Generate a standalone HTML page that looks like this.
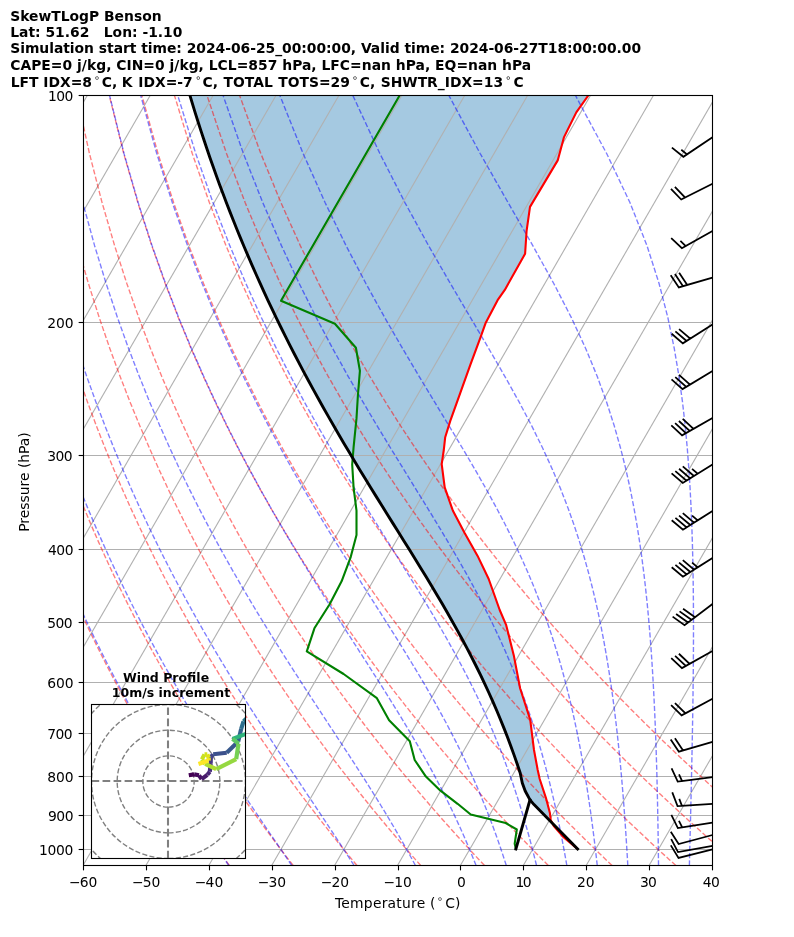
<!DOCTYPE html><html><head><meta charset="utf-8"><title>SkewTLogP Benson</title><style>html,body{margin:0;padding:0;background:#fff}svg{display:block}text{white-space:pre;font-family:"DejaVu Sans","Liberation Sans",sans-serif;fill:#000}.b{font-weight:bold}</style></head><body>
<svg width="794" height="937" viewBox="0 0 794 937">
<rect width="794" height="937" fill="#fff"/>
<defs><clipPath id="ax"><rect x="83.50" y="95.50" width="629.00" height="770.00"/></clipPath><clipPath id="hd"><rect x="91.50" y="704.50" width="154.00" height="154.00"/></clipPath></defs>
<g clip-path="url(#ax)">
<polygon points="550.5,821.5 534.0,804.6 530.0,799.9 525.2,791.0 522.3,783.0 520.2,773.0 517.2,764.0 514.1,755.1 510.9,746.2 507.5,737.3 504.1,728.4 500.5,719.5 496.7,710.6 492.9,701.6 488.9,692.7 484.7,683.8 480.5,674.9 476.1,666.0 471.6,657.1 467.0,648.2 462.2,639.2 457.3,630.3 452.3,621.4 447.3,612.5 442.1,603.6 436.8,594.7 431.5,585.8 426.1,576.9 420.7,567.9 415.2,559.0 409.6,550.1 404.1,541.2 398.5,532.3 392.9,523.4 387.4,514.5 381.8,505.5 376.3,496.6 370.8,487.7 365.3,478.8 359.9,469.9 354.5,461.0 349.1,452.1 343.8,443.1 338.6,434.2 333.4,425.3 328.3,416.4 323.2,407.5 318.3,398.6 313.3,389.7 308.5,380.7 303.7,371.8 299.0,362.9 294.4,354.0 289.8,345.1 285.3,336.2 280.9,327.3 276.5,318.3 272.2,309.4 268.0,300.5 263.9,291.6 259.8,282.7 255.8,273.8 251.9,264.9 248.0,256.0 244.2,247.0 240.5,238.1 236.9,229.2 233.3,220.3 229.8,211.4 226.3,202.5 222.9,193.6 219.6,184.6 216.4,175.7 213.2,166.8 210.0,157.9 207.0,149.0 204.0,140.1 201.1,131.2 198.2,122.2 195.4,113.3 192.6,104.4 189.9,95.5 588.3,95.5 576.3,112.4 563.9,137.4 557.7,160.4 530.0,206.9 526.6,230.8 525.1,253.8 504.8,289.9 497.6,300.2 485.5,323.3 480.5,337.4 470.4,364.6 460.3,392.8 450.2,421.1 445.2,437.2 443.8,450.0 441.7,464.2 444.7,487.4 452.8,510.5 464.5,532.7 477.6,555.9 488.7,579.0 499.7,610.0 506.2,625.2 513.8,655.4 520.1,688.2 530.2,719.6 534.0,750.0 537.7,770.0 539.7,779.0 545.9,797.8 549.9,813.0 550.7,819.9" fill="#1f77b4" fill-opacity="0.4"/>
<g stroke="#b0b0b0" stroke-width="1.11" fill="none">
<line x1="83.50" y1="322.50" x2="712.50" y2="322.50"/>
<line x1="83.50" y1="455.50" x2="712.50" y2="455.50"/>
<line x1="83.50" y1="549.50" x2="712.50" y2="549.50"/>
<line x1="83.50" y1="622.50" x2="712.50" y2="622.50"/>
<line x1="83.50" y1="682.50" x2="712.50" y2="682.50"/>
<line x1="83.50" y1="733.50" x2="712.50" y2="733.50"/>
<line x1="83.50" y1="776.50" x2="712.50" y2="776.50"/>
<line x1="83.50" y1="815.50" x2="712.50" y2="815.50"/>
<line x1="83.50" y1="849.50" x2="712.50" y2="849.50"/>
<line x1="-546.00" y1="865.50" x2="-101.44" y2="95.50"/>
<line x1="-483.10" y1="865.50" x2="-38.54" y2="95.50"/>
<line x1="-420.20" y1="865.50" x2="24.36" y2="95.50"/>
<line x1="-357.30" y1="865.50" x2="87.26" y2="95.50"/>
<line x1="-294.40" y1="865.50" x2="150.16" y2="95.50"/>
<line x1="-231.50" y1="865.50" x2="213.06" y2="95.50"/>
<line x1="-168.60" y1="865.50" x2="275.96" y2="95.50"/>
<line x1="-105.70" y1="865.50" x2="338.86" y2="95.50"/>
<line x1="-42.80" y1="865.50" x2="401.76" y2="95.50"/>
<line x1="20.10" y1="865.50" x2="464.66" y2="95.50"/>
<line x1="83.00" y1="865.50" x2="527.56" y2="95.50"/>
<line x1="145.90" y1="865.50" x2="590.46" y2="95.50"/>
<line x1="208.80" y1="865.50" x2="653.36" y2="95.50"/>
<line x1="271.70" y1="865.50" x2="716.26" y2="95.50"/>
<line x1="334.60" y1="865.50" x2="779.16" y2="95.50"/>
<line x1="397.50" y1="865.50" x2="842.06" y2="95.50"/>
<line x1="460.40" y1="865.50" x2="904.96" y2="95.50"/>
<line x1="523.30" y1="865.50" x2="967.86" y2="95.50"/>
<line x1="586.20" y1="865.50" x2="1030.76" y2="95.50"/>
<line x1="649.10" y1="865.50" x2="1093.66" y2="95.50"/>
<line x1="712.00" y1="865.50" x2="1156.56" y2="95.50"/>
</g>
<g stroke="#ff0000" stroke-opacity="0.5" stroke-width="1.39" stroke-dasharray="5.14 2.22" fill="none">
<polyline points="229.39,865.50 225.01,859.40 220.60,853.18 216.14,846.84 211.65,840.37 207.11,833.78 202.52,827.05 197.90,820.18 193.22,813.16 188.50,805.99 183.73,798.65 178.91,791.15 174.04,783.48 169.11,775.61 164.13,767.56 159.10,759.30 154.01,750.83 148.86,742.13 143.65,733.20 138.38,724.02 133.04,714.57 127.64,704.84 122.17,694.81 116.63,684.46 111.01,673.78 105.33,662.74 99.56,651.31 93.72,639.47 87.80,627.18 81.79,614.42 75.69,601.14 69.51,587.29 63.23,572.84 56.87,557.72 50.40,541.86 43.84,525.20 37.18,507.64 30.41,489.09 23.55,469.43 16.59,448.51 9.54,426.16 2.39,402.17 -4.83,376.29 -12.11,348.18 -19.42,317.43 -26.73,283.50 -33.95,245.63 -40.98,202.81 -47.63,153.53 -53.58,95.50"/>
<polyline points="293.17,865.50 288.46,859.40 283.70,853.18 278.90,846.84 274.05,840.37 269.15,833.78 264.20,827.05 259.21,820.18 254.16,813.16 249.05,805.99 243.90,798.65 238.68,791.15 233.41,783.48 228.08,775.61 222.69,767.56 217.24,759.30 211.72,750.83 206.13,742.13 200.48,733.20 194.75,724.02 188.95,714.57 183.08,704.84 177.13,694.81 171.09,684.46 164.97,673.78 158.77,662.74 152.47,651.31 146.09,639.47 139.61,627.18 133.02,614.42 126.34,601.14 119.55,587.29 112.64,572.84 105.63,557.72 98.49,541.86 91.24,525.20 83.85,507.64 76.34,489.09 68.70,469.43 60.92,448.51 53.01,426.16 44.97,402.17 36.79,376.29 28.50,348.18 20.12,317.43 11.66,283.50 3.19,245.63 -5.20,202.81 -13.36,153.53 -21.00,95.50"/>
<polyline points="356.95,865.50 351.90,859.40 346.80,853.18 341.65,846.84 336.45,840.37 331.19,833.78 325.88,827.05 320.52,820.18 315.09,813.16 309.61,805.99 304.07,798.65 298.46,791.15 292.79,783.48 287.06,775.61 281.25,767.56 275.38,759.30 269.43,750.83 263.41,742.13 257.31,733.20 251.13,724.02 244.87,714.57 238.52,704.84 232.08,694.81 225.55,684.46 218.93,673.78 212.21,662.74 205.39,651.31 198.45,639.47 191.41,627.18 184.26,614.42 176.98,601.14 169.58,587.29 162.05,572.84 154.39,557.72 146.58,541.86 138.63,525.20 130.53,507.64 122.27,489.09 113.85,469.43 105.25,448.51 96.48,426.16 87.54,402.17 78.42,376.29 69.12,348.18 59.66,317.43 50.05,283.50 40.33,245.63 30.57,202.81 20.91,153.53 11.58,95.50"/>
<polyline points="420.74,865.50 415.35,859.40 409.90,853.18 404.40,846.84 398.85,840.37 393.23,833.78 387.56,827.05 381.83,820.18 376.03,813.16 370.17,805.99 364.24,798.65 358.24,791.15 352.17,783.48 346.03,775.61 339.81,767.56 333.52,759.30 327.14,750.83 320.68,742.13 314.14,733.20 307.50,724.02 300.78,714.57 293.96,704.84 287.04,694.81 280.02,684.46 272.89,673.78 265.65,662.74 258.30,651.31 250.82,639.47 243.22,627.18 235.49,614.42 227.63,601.14 219.62,587.29 211.46,572.84 203.15,557.72 194.68,541.86 186.03,525.20 177.21,507.64 168.20,489.09 158.99,469.43 149.58,448.51 139.96,426.16 130.11,402.17 120.04,376.29 109.73,348.18 99.19,317.43 88.43,283.50 77.47,245.63 66.35,202.81 55.18,153.53 44.16,95.50"/>
<polyline points="484.52,865.50 478.79,859.40 473.00,853.18 467.16,846.84 461.25,840.37 455.28,833.78 449.24,827.05 443.14,820.18 436.96,813.16 430.72,805.99 424.41,798.65 418.02,791.15 411.55,783.48 405.00,775.61 398.37,767.56 391.65,759.30 384.85,750.83 377.96,742.13 370.97,733.20 363.88,724.02 356.69,714.57 349.40,704.84 342.00,694.81 334.48,684.46 326.85,673.78 319.09,662.74 311.21,651.31 303.19,639.47 295.03,627.18 286.73,614.42 278.27,601.14 269.66,587.29 260.87,572.84 251.91,557.72 242.77,541.86 233.43,525.20 223.89,507.64 214.13,489.09 204.14,469.43 193.91,448.51 183.43,426.16 172.69,402.17 161.66,376.29 150.35,348.18 138.73,317.43 126.82,283.50 114.61,245.63 102.13,202.81 89.45,153.53 76.74,95.50"/>
<polyline points="548.30,865.50 542.23,859.40 536.10,853.18 529.91,846.84 523.65,840.37 517.32,833.78 510.92,827.05 504.45,820.18 497.90,813.16 491.28,805.99 484.58,798.65 477.79,791.15 470.93,783.48 463.97,775.61 456.93,767.56 449.79,759.30 442.56,750.83 435.23,742.13 427.80,733.20 420.26,724.02 412.61,714.57 404.84,704.84 396.95,694.81 388.95,684.46 380.81,673.78 372.53,662.74 364.12,651.31 355.56,639.47 346.84,627.18 337.96,614.42 328.92,601.14 319.69,587.29 310.28,572.84 300.67,557.72 290.86,541.86 280.83,525.20 270.56,507.64 260.05,489.09 249.29,469.43 238.24,448.51 226.91,426.16 215.26,402.17 203.29,376.29 190.96,348.18 178.27,317.43 165.20,283.50 151.74,245.63 137.90,202.81 123.72,153.53 109.32,95.50"/>
<polyline points="612.08,865.50 605.68,859.40 599.20,853.18 592.66,846.84 586.05,840.37 579.36,833.78 572.60,827.05 565.76,820.18 558.84,813.16 551.83,805.99 544.74,798.65 537.57,791.15 530.30,783.48 522.94,775.61 515.49,767.56 507.93,759.30 500.27,750.83 492.50,742.13 484.63,733.20 476.63,724.02 468.52,714.57 460.28,704.84 451.91,694.81 443.41,684.46 434.76,673.78 425.97,662.74 417.03,651.31 407.92,639.47 398.65,627.18 389.20,614.42 379.56,601.14 369.73,587.29 359.69,572.84 349.44,557.72 338.95,541.86 328.22,525.20 317.24,507.64 305.98,489.09 294.43,469.43 282.57,448.51 270.38,426.16 257.83,402.17 244.91,376.29 231.58,348.18 217.81,317.43 203.59,283.50 188.88,245.63 173.68,202.81 157.99,153.53 141.90,95.50"/>
<polyline points="675.87,865.50 669.12,859.40 662.30,853.18 655.41,846.84 648.45,840.37 641.40,833.78 634.27,827.05 627.07,820.18 619.77,813.16 612.39,805.99 604.91,798.65 597.35,791.15 589.68,783.48 581.92,775.61 574.05,767.56 566.07,759.30 557.98,750.83 549.78,742.13 541.46,733.20 533.01,724.02 524.43,714.57 515.72,704.84 506.87,694.81 497.87,684.46 488.72,673.78 479.41,662.74 469.94,651.31 460.29,639.47 450.46,627.18 440.43,614.42 430.21,601.14 419.77,587.29 409.10,572.84 398.20,557.72 387.04,541.86 375.62,525.20 363.92,507.64 351.91,489.09 339.58,469.43 326.90,448.51 313.85,426.16 300.41,402.17 286.53,376.29 272.19,348.18 257.35,317.43 241.98,283.50 226.02,245.63 209.46,202.81 192.26,153.53 174.48,95.50"/>
<polyline points="739.65,865.50 732.57,859.40 725.41,853.18 718.17,846.84 710.85,840.37 703.44,833.78 695.95,827.05 688.38,820.18 680.71,813.16 672.94,805.99 665.08,798.65 657.12,791.15 649.06,783.48 640.89,775.61 632.61,767.56 624.21,759.30 615.69,750.83 607.05,742.13 598.29,733.20 589.38,724.02 580.34,714.57 571.16,704.84 561.83,694.81 552.34,684.46 542.68,673.78 532.86,662.74 522.85,651.31 512.66,639.47 502.27,627.18 491.67,614.42 480.85,601.14 469.80,587.29 458.51,572.84 446.96,557.72 435.14,541.86 423.02,525.20 410.59,507.64 397.84,489.09 384.73,469.43 371.23,448.51 357.33,426.16 342.98,402.17 328.15,376.29 312.81,348.18 296.89,317.43 280.36,283.50 263.16,245.63 245.23,202.81 226.53,153.53 207.05,95.50"/>
<polyline points="803.43,865.50 796.01,859.40 788.51,853.18 780.92,846.84 773.25,840.37 765.48,833.78 757.63,827.05 749.69,820.18 741.64,813.16 733.50,805.99 725.25,798.65 716.90,791.15 708.44,783.48 699.86,775.61 691.16,767.56 682.35,759.30 673.40,750.83 664.33,742.13 655.11,733.20 645.76,724.02 636.26,714.57 626.60,704.84 616.78,694.81 606.80,684.46 596.64,673.78 586.30,662.74 575.76,651.31 565.02,639.47 554.07,627.18 542.90,614.42 531.49,601.14 519.84,587.29 507.92,572.84 495.72,557.72 483.23,541.86 470.42,525.20 457.27,507.64 443.77,489.09 429.87,469.43 415.56,448.51 400.80,426.16 385.56,402.17 369.78,376.29 353.42,348.18 336.43,317.43 318.75,283.50 300.30,245.63 281.01,202.81 260.81,153.53 239.63,95.50"/>
</g>
<g stroke="#0000ff" stroke-opacity="0.5" stroke-width="1.39" stroke-dasharray="5.14 2.22" fill="none">
<polyline points="228.82,865.50 224.68,859.40 220.48,853.18 216.22,846.84 211.91,840.37 207.53,833.78 203.10,827.05 198.60,820.18 194.05,813.16 189.44,805.99 184.76,798.65 180.03,791.15 175.23,783.48 170.37,775.61 165.44,767.56 160.46,759.30 155.40,750.83 150.29,742.13 145.10,733.20 139.85,724.02 134.53,714.57 129.14,704.84 123.67,694.81 118.13,684.46 112.52,673.78 106.83,662.74 101.06,651.31 95.21,639.47 89.27,627.18 83.25,614.42 77.14,601.14 70.95,587.29 64.65,572.84 58.27,557.72 51.79,541.86 45.20,525.20 38.52,507.64 31.74,489.09 24.85,469.43 17.87,448.51 10.79,426.16 3.62,402.17 -3.63,376.29 -10.94,348.18 -18.28,317.43 -25.62,283.50 -32.88,245.63 -39.95,202.81 -46.64,153.53 -52.64,95.50"/>
<polyline points="291.80,865.50 287.65,859.40 283.41,853.18 279.10,846.84 274.70,840.37 270.21,833.78 265.65,827.05 261.00,820.18 256.27,813.16 251.46,805.99 246.56,798.65 241.58,791.15 236.52,783.48 231.37,775.61 226.14,767.56 220.82,759.30 215.42,750.83 209.93,742.13 204.36,733.20 198.70,724.02 192.95,714.57 187.11,704.84 181.19,694.81 175.17,684.46 169.06,673.78 162.85,662.74 156.54,651.31 150.14,639.47 143.63,627.18 137.02,614.42 130.30,601.14 123.47,587.29 116.53,572.84 109.47,557.72 102.28,541.86 94.97,525.20 87.54,507.64 79.97,489.09 72.26,469.43 64.42,448.51 56.44,426.16 48.33,402.17 40.08,376.29 31.71,348.18 23.24,317.43 14.69,283.50 6.12,245.63 -2.38,202.81 -10.66,153.53 -18.43,95.50"/>
<polyline points="354.07,865.50 350.18,859.40 346.19,853.18 342.08,846.84 337.87,840.37 333.55,833.78 329.11,827.05 324.55,820.18 319.88,813.16 315.09,805.99 310.19,798.65 305.17,791.15 300.03,783.48 294.77,775.61 289.39,767.56 283.89,759.30 278.27,750.83 272.53,742.13 266.68,733.20 260.70,724.02 254.60,714.57 248.39,704.84 242.05,694.81 235.59,684.46 229.01,673.78 222.31,662.74 215.48,651.31 208.53,639.47 201.44,627.18 194.23,614.42 186.88,601.14 179.40,587.29 171.77,572.84 164.00,557.72 156.08,541.86 148.00,525.20 139.76,507.64 131.36,489.09 122.78,469.43 114.03,448.51 105.09,426.16 95.97,402.17 86.66,376.29 77.16,348.18 67.49,317.43 57.65,283.50 47.68,245.63 37.66,202.81 27.70,153.53 18.03,95.50"/>
<polyline points="415.44,865.50 412.15,859.40 408.75,853.18 405.22,846.84 401.57,840.37 397.78,833.78 393.85,827.05 389.78,820.18 385.57,813.16 381.20,805.99 376.68,798.65 372.01,791.15 367.17,783.48 362.16,775.61 356.99,767.56 351.65,759.30 346.13,750.83 340.44,742.13 334.58,733.20 328.54,724.02 322.33,714.57 315.94,704.84 309.37,694.81 302.62,684.46 295.70,673.78 288.60,662.74 281.33,651.31 273.88,639.47 266.26,627.18 258.45,614.42 250.47,601.14 242.31,587.29 233.96,572.84 225.43,557.72 216.71,541.86 207.79,525.20 198.66,507.64 189.33,489.09 179.78,469.43 170.00,448.51 159.99,426.16 149.74,402.17 139.23,376.29 128.46,348.18 117.42,317.43 106.13,283.50 94.59,245.63 82.84,202.81 70.98,153.53 59.18,95.50"/>
<polyline points="476.09,865.50 473.67,859.40 471.14,853.18 468.50,846.84 465.74,840.37 462.87,833.78 459.86,827.05 456.71,820.18 453.42,813.16 449.97,805.99 446.37,798.65 442.59,791.15 438.63,783.48 434.48,775.61 430.14,767.56 425.58,759.30 420.81,750.83 415.81,742.13 410.58,733.20 405.10,724.02 399.37,714.57 393.38,704.84 387.13,694.81 380.61,684.46 373.81,673.78 366.74,662.74 359.39,651.31 351.76,639.47 343.85,627.18 335.67,614.42 327.20,601.14 318.46,587.29 309.44,572.84 300.15,557.72 290.59,541.86 280.75,525.20 270.63,507.64 260.22,489.09 249.53,469.43 238.53,448.51 227.22,426.16 215.59,402.17 203.62,376.29 191.30,348.18 178.61,317.43 165.53,283.50 152.06,245.63 138.21,202.81 124.01,153.53 109.59,95.50"/>
<polyline points="506.30,865.50 504.34,859.40 502.30,853.18 500.16,846.84 497.93,840.37 495.59,833.78 493.13,827.05 490.56,820.18 487.85,813.16 485.01,805.99 482.03,798.65 478.89,791.15 475.58,783.48 472.09,775.61 468.41,767.56 464.54,759.30 460.44,750.83 456.12,742.13 451.55,733.20 446.73,724.02 441.63,714.57 436.25,704.84 430.57,694.81 424.58,684.46 418.26,673.78 411.60,662.74 404.60,651.31 397.25,639.47 389.53,627.18 381.45,614.42 373.00,601.14 364.19,587.29 355.02,572.84 345.48,557.72 335.58,541.86 325.32,525.20 314.70,507.64 303.73,489.09 292.40,469.43 280.71,448.51 268.64,426.16 256.19,402.17 243.34,376.29 230.06,348.18 216.35,317.43 202.18,283.50 187.52,245.63 172.37,202.81 156.73,153.53 140.70,95.50"/>
<polyline points="536.53,865.50 535.03,859.40 533.46,853.18 531.83,846.84 530.11,840.37 528.31,833.78 526.42,827.05 524.44,820.18 522.35,813.16 520.15,805.99 517.83,798.65 515.38,791.15 512.80,783.48 510.06,775.61 507.16,767.56 504.09,759.30 500.82,750.83 497.35,742.13 493.67,733.20 489.74,724.02 485.55,714.57 481.08,704.84 476.31,694.81 471.23,684.46 465.79,673.78 459.99,662.74 453.79,651.31 447.18,639.47 440.13,627.18 432.63,614.42 424.66,601.14 416.20,587.29 407.25,572.84 397.80,557.72 387.84,541.86 377.40,525.20 366.45,507.64 355.02,489.09 343.10,469.43 330.71,448.51 317.83,426.16 304.46,402.17 290.60,376.29 276.23,348.18 261.32,317.43 245.85,283.50 229.78,245.63 213.08,202.81 195.73,153.53 177.77,95.50"/>
<polyline points="566.83,865.50 565.76,859.40 564.64,853.18 563.48,846.84 562.25,840.37 560.97,833.78 559.62,827.05 558.20,820.18 556.70,813.16 555.12,805.99 553.46,798.65 551.70,791.15 549.83,783.48 547.85,775.61 545.75,767.56 543.52,759.30 541.14,750.83 538.59,742.13 535.88,733.20 532.97,724.02 529.85,714.57 526.50,704.84 522.89,694.81 519.00,684.46 514.81,673.78 510.27,662.74 505.36,651.31 500.04,639.47 494.27,627.18 488.01,614.42 481.22,601.14 473.86,587.29 465.89,572.84 457.28,557.72 447.99,541.86 438.00,525.20 427.29,507.64 415.86,489.09 403.72,469.43 390.86,448.51 377.30,426.16 363.06,402.17 348.13,376.29 332.52,348.18 316.22,317.43 299.20,283.50 281.42,245.63 262.84,202.81 243.41,153.53 223.09,95.50"/>
<polyline points="597.25,865.50 596.57,859.40 595.85,853.18 595.11,846.84 594.32,840.37 593.50,833.78 592.63,827.05 591.72,820.18 590.76,813.16 589.74,805.99 588.67,798.65 587.53,791.15 586.33,783.48 585.05,775.61 583.69,767.56 582.24,759.30 580.68,750.83 579.02,742.13 577.24,733.20 575.33,724.02 573.27,714.57 571.05,704.84 568.64,694.81 566.03,684.46 563.20,673.78 560.11,662.74 556.73,651.31 553.03,639.47 548.97,627.18 544.49,614.42 539.55,601.14 534.08,587.29 528.03,572.84 521.30,557.72 513.84,541.86 505.55,525.20 496.35,507.64 486.18,489.09 474.96,469.43 462.66,448.51 449.24,426.16 434.71,402.17 419.08,376.29 402.39,348.18 384.64,317.43 365.87,283.50 346.06,245.63 325.17,202.81 303.14,153.53 279.89,95.50"/>
<polyline points="627.81,865.50 627.46,859.40 627.10,853.18 626.71,846.84 626.30,840.37 625.88,833.78 625.43,827.05 624.95,820.18 624.45,813.16 623.91,805.99 623.35,798.65 622.74,791.15 622.10,783.48 621.42,775.61 620.69,767.56 619.91,759.30 619.07,750.83 618.16,742.13 617.19,733.20 616.14,724.02 615.01,714.57 613.77,704.84 612.43,694.81 610.97,684.46 609.37,673.78 607.61,662.74 605.67,651.31 603.54,639.47 601.17,627.18 598.53,614.42 595.59,601.14 592.28,587.29 588.56,572.84 584.35,557.72 579.57,541.86 574.12,525.20 567.87,507.64 560.68,489.09 552.41,469.43 542.86,448.51 531.86,426.16 519.22,402.17 504.81,376.29 488.53,348.18 470.37,317.43 450.35,283.50 428.55,245.63 405.05,202.81 379.84,153.53 352.87,95.50"/>
<polyline points="658.52,865.50 658.45,859.40 658.37,853.18 658.29,846.84 658.20,840.37 658.10,833.78 657.99,827.05 657.87,820.18 657.74,813.16 657.60,805.99 657.45,798.65 657.28,791.15 657.10,783.48 656.90,775.61 656.68,767.56 656.43,759.30 656.17,750.83 655.87,742.13 655.55,733.20 655.19,724.02 654.79,714.57 654.34,704.84 653.85,694.81 653.30,684.46 652.68,673.78 651.99,662.74 651.22,651.31 650.34,639.47 649.35,627.18 648.23,614.42 646.95,601.14 645.48,587.29 643.80,572.84 641.86,557.72 639.61,541.86 636.98,525.20 633.89,507.64 630.24,489.09 625.89,469.43 620.66,448.51 614.35,426.16 606.64,402.17 597.19,376.29 585.56,348.18 571.24,317.43 553.77,283.50 532.79,245.63 508.21,202.81 480.16,153.53 448.89,95.50"/>
<polyline points="689.38,865.50 689.53,859.40 689.68,853.18 689.84,846.84 690.00,840.37 690.16,833.78 690.33,827.05 690.50,820.18 690.66,813.16 690.84,805.99 691.01,798.65 691.18,791.15 691.36,783.48 691.53,775.61 691.71,767.56 691.88,759.30 692.06,750.83 692.23,742.13 692.40,733.20 692.56,724.02 692.72,714.57 692.87,704.84 693.01,694.81 693.14,684.46 693.26,673.78 693.35,662.74 693.43,651.31 693.48,639.47 693.49,627.18 693.47,614.42 693.39,601.14 693.26,587.29 693.05,572.84 692.76,557.72 692.35,541.86 691.80,525.20 691.07,507.64 690.13,489.09 688.90,469.43 687.30,448.51 685.23,426.16 682.52,402.17 678.96,376.29 674.21,348.18 667.82,317.43 659.08,283.50 646.97,245.63 630.05,202.81 606.66,153.53 575.49,95.50"/>
<polyline points="720.36,865.50 720.69,859.40 721.03,853.18 721.37,846.84 721.73,840.37 722.09,833.78 722.47,827.05 722.86,820.18 723.26,813.16 723.67,805.99 724.09,798.65 724.52,791.15 724.97,783.48 725.43,775.61 725.90,767.56 726.39,759.30 726.89,750.83 727.41,742.13 727.94,733.20 728.49,724.02 729.06,714.57 729.64,704.84 730.24,694.81 730.86,684.46 731.50,673.78 732.15,662.74 732.83,651.31 733.52,639.47 734.24,627.18 734.97,614.42 735.72,601.14 736.48,587.29 737.27,572.84 738.06,557.72 738.86,541.86 739.67,525.20 740.47,507.64 741.26,489.09 742.02,469.43 742.72,448.51 743.34,426.16 743.84,402.17 744.14,376.29 744.14,348.18 743.68,317.43 742.50,283.50 740.17,245.63 735.92,202.81 728.31,153.53 714.56,95.50"/>
<polyline points="751.45,865.50 751.92,859.40 752.39,853.18 752.88,846.84 753.39,840.37 753.91,833.78 754.44,827.05 754.99,820.18 755.56,813.16 756.15,805.99 756.76,798.65 757.38,791.15 758.03,783.48 758.70,775.61 759.39,767.56 760.11,759.30 760.85,750.83 761.62,742.13 762.41,733.20 763.24,724.02 764.09,714.57 764.98,704.84 765.91,694.81 766.87,684.46 767.87,673.78 768.91,662.74 770.00,651.31 771.14,639.47 772.32,627.18 773.56,614.42 774.86,601.14 776.22,587.29 777.65,572.84 779.15,557.72 780.73,541.86 782.39,525.20 784.14,507.64 785.99,489.09 787.95,469.43 790.02,448.51 792.21,426.16 794.53,402.17 796.99,376.29 799.58,348.18 802.31,317.43 805.16,283.50 808.07,245.63 810.91,202.81 813.44,153.53 814.99,95.50"/>
<polyline points="782.65,865.50 783.21,859.40 783.78,853.18 784.38,846.84 784.99,840.37 785.62,833.78 786.27,827.05 786.94,820.18 787.63,813.16 788.35,805.99 789.09,798.65 789.85,791.15 790.64,783.48 791.46,775.61 792.30,767.56 793.18,759.30 794.09,750.83 795.03,742.13 796.01,733.20 797.03,724.02 798.09,714.57 799.19,704.84 800.33,694.81 801.53,684.46 802.78,673.78 804.08,662.74 805.45,651.31 806.88,639.47 808.38,627.18 809.95,614.42 811.61,601.14 813.36,587.29 815.20,572.84 817.15,557.72 819.22,541.86 821.42,525.20 823.76,507.64 826.26,489.09 828.94,469.43 831.81,448.51 834.92,426.16 838.29,402.17 841.95,376.29 845.96,348.18 850.37,317.43 855.27,283.50 860.74,245.63 866.91,202.81 873.93,153.53 882.00,95.50"/>
</g>
<polyline points="577.5,849.0 563.0,836.6 553.8,826.0 550.7,819.9 549.9,813.0 545.9,797.8 539.7,779.0 537.7,770.0 534.0,750.0 530.2,719.6 520.1,688.2 513.8,655.4 506.2,625.2 499.7,610.0 488.7,579.0 477.6,555.9 464.5,532.7 452.8,510.5 444.7,487.4 441.7,464.2 443.8,450.0 445.2,437.2 450.2,421.1 460.3,392.8 470.4,364.6 480.5,337.4 485.5,323.3 497.6,300.2 504.8,289.9 525.1,253.8 526.6,230.8 530.0,206.9 557.7,160.4 563.9,137.4 576.3,112.4 588.3,95.5" fill="none" stroke="#ff0000" stroke-width="2.10" stroke-linejoin="round"/>
<polyline points="515.9,849.0 514.7,843.7 516.8,829.5 505.7,823.0 470.7,814.5 457.6,803.8 440.5,790.7 425.9,776.6 414.7,760.0 409.8,741.3 389.1,720.2 376.9,698.2 343.6,674.0 306.8,651.4 314.4,628.3 329.5,604.5 341.6,581.3 350.7,557.1 356.5,535.1 356.5,510.6 353.6,487.6 352.2,464.5 353.6,447.2 356.5,418.4 357.9,395.3 359.9,370.8 355.9,347.7 334.9,323.8 281.0,300.8 399.6,95.5" fill="none" stroke="#008000" stroke-width="2.10" stroke-linejoin="round"/>
<polyline points="515.9,849.0 530.0,799.9" fill="none" stroke="#000" stroke-width="2.90" stroke-linejoin="round" stroke-linecap="square"/>
<polyline points="577.60,849.00 555.80,826.80 534.00,804.60 530.00,799.90 525.20,791.00 522.30,783.00 520.19,772.96 517.20,764.04 514.10,755.13 510.87,746.22 507.53,737.30 504.05,728.39 500.45,719.47 496.72,710.56 492.86,701.65 488.87,692.73 484.75,683.82 480.49,674.91 476.10,665.99 471.59,657.08 466.95,648.16 462.19,639.25 457.32,630.34 452.34,621.42 447.26,612.51 442.09,603.59 436.84,594.68 431.50,585.77 426.11,576.85 420.66,567.94 415.16,559.02 409.64,550.11 404.08,541.20 398.52,532.28 392.94,523.37 387.38,514.45 381.82,505.54 376.28,496.63 370.77,487.71 365.29,478.80 359.86,469.88 354.46,460.97 349.12,452.06 343.82,443.14 338.59,434.23 333.41,425.32 328.30,416.40 323.25,407.49 318.26,398.57 313.34,389.66 308.49,380.75 303.71,371.83 299.00,362.92 294.36,354.00 289.80,345.09 285.30,336.18 280.87,327.26 276.52,318.35 272.24,309.43 268.03,300.52 263.89,291.61 259.82,282.69 255.82,273.78 251.89,264.86 248.03,255.95 244.24,247.04 240.52,238.12 236.87,229.21 233.28,220.29 229.76,211.38 226.31,202.47 222.93,193.55 219.61,184.64 216.36,175.73 213.17,166.81 210.04,157.90 206.99,148.98 203.99,140.07 201.06,131.16 198.19,122.24 195.38,113.33 192.63,104.41 189.95,95.50" fill="none" stroke="#000" stroke-width="2.90" stroke-linejoin="round" stroke-linecap="square"/>
</g>
<g fill="#000" stroke="#000" stroke-width="1.75" stroke-linejoin="miter">
<path d="M712.50 137.30 L683.37 156.79 L671.93 147.57 L683.37 156.79 L687.01 154.35 L681.29 149.74 L687.01 154.35 L712.50 137.30Z"/>
<path d="M712.50 183.70 L681.21 199.50 L670.98 188.96 L681.21 199.50 L685.12 197.52 L674.89 186.98 L685.12 197.52 L712.50 183.70Z"/>
<path d="M712.50 231.10 L681.88 248.16 L671.23 238.04 L681.88 248.16 L685.71 246.02 L680.38 240.97 L685.71 246.02 L712.50 231.10Z"/>
<path d="M712.50 277.60 L678.85 287.39 L670.72 275.15 L678.85 287.39 L683.05 286.17 L674.93 273.93 L683.05 286.17 L687.26 284.94 L679.14 272.70 L687.26 284.94 L712.50 277.60Z"/>
<path d="M712.50 324.60 L682.85 343.30 L671.67 333.78 L682.85 343.30 L686.56 340.96 L675.38 331.44 L686.56 340.96 L690.27 338.62 L679.08 329.10 L690.27 338.62 L712.50 324.60Z"/>
<path d="M712.50 370.90 L682.54 389.09 L671.52 379.39 L682.54 389.09 L686.29 386.82 L675.27 377.11 L686.29 386.82 L690.03 384.55 L679.01 374.84 L690.03 384.55 L712.50 370.90Z"/>
<path d="M712.50 417.90 L682.10 435.34 L671.32 425.36 L682.10 435.34 L685.90 433.16 L675.12 423.18 L685.90 433.16 L689.70 430.98 L678.92 421.00 L689.70 430.98 L693.50 428.80 L682.72 418.82 L693.50 428.80 L712.50 417.90Z"/>
<path d="M712.50 464.40 L682.76 482.94 L671.62 473.36 L682.76 482.94 L686.47 480.62 L675.34 471.04 L686.47 480.62 L690.19 478.30 L679.06 468.72 L690.19 478.30 L693.91 475.99 L682.78 466.41 L693.91 475.99 L697.63 473.67 L692.06 468.88 L697.63 473.67 L712.50 464.40Z"/>
<path d="M712.50 510.90 L682.94 529.73 L671.71 520.26 L682.94 529.73 L686.63 527.38 L675.41 517.91 L686.63 527.38 L690.33 525.02 L679.10 515.55 L690.33 525.02 L694.02 522.67 L682.80 513.20 L694.02 522.67 L697.72 520.31 L692.11 515.58 L697.72 520.31 L712.50 510.90Z"/>
<path d="M712.50 557.90 L682.94 576.73 L671.71 567.26 L682.94 576.73 L686.63 574.38 L675.41 564.91 L686.63 574.38 L690.33 572.02 L679.10 562.55 L690.33 572.02 L694.02 569.67 L682.80 560.20 L694.02 569.67 L697.72 567.31 L692.11 562.58 L697.72 567.31 L712.50 557.90Z"/>
<path d="M712.50 604.00 L684.57 625.17 L672.61 616.65 L684.57 625.17 L688.06 622.53 L676.10 614.00 L688.06 622.53 L691.55 619.88 L679.59 611.36 L691.55 619.88 L695.04 617.23 L683.08 608.71 L695.04 617.23 L712.50 604.00Z"/>
<path d="M712.50 650.90 L681.97 668.11 L671.27 658.05 L681.97 668.11 L685.79 665.96 L675.08 655.90 L685.79 665.96 L689.60 663.81 L678.90 653.75 L689.60 663.81 L712.50 650.90Z"/>
<path d="M712.50 698.80 L681.62 715.38 L671.13 705.10 L681.62 715.38 L685.48 713.31 L674.99 703.03 L685.48 713.31 L712.50 698.80Z"/>
<path d="M712.50 741.90 L678.85 751.69 L670.72 739.45 L678.85 751.69 L683.05 750.47 L674.93 738.23 L683.05 750.47 L712.50 741.90Z"/>
<path d="M712.50 777.20 L677.73 781.63 L671.61 768.28 L677.73 781.63 L682.08 781.08 L679.02 774.40 L682.08 781.08 L712.50 777.20Z"/>
<path d="M712.50 803.90 L677.52 806.05 L672.28 792.33 L677.52 806.05 L681.89 805.79 L679.27 798.92 L681.89 805.79 L712.50 803.90Z"/>
<path d="M712.50 822.60 L677.88 828.08 L671.36 814.92 L677.88 828.08 L682.21 827.40 L678.95 820.82 L682.21 827.40 L712.50 822.60Z"/>
<path d="M712.50 835.00 L678.64 844.07 L670.79 831.66 L678.64 844.07 L712.50 835.00Z"/>
<path d="M712.50 845.80 L678.02 852.06 L671.20 839.05 L678.02 852.06 L712.50 845.80Z"/>
<path d="M712.50 849.30 L678.52 857.87 L670.84 845.35 L678.52 857.87 L712.50 849.30Z"/>
</g>
<rect x="83.50" y="95.50" width="629.00" height="770.00" fill="none" stroke="#000" stroke-width="1.11"/>
<g stroke="#000" stroke-width="1.11">
<line x1="83.50" y1="865.50" x2="83.50" y2="870.36"/>
<line x1="146.50" y1="865.50" x2="146.50" y2="870.36"/>
<line x1="209.50" y1="865.50" x2="209.50" y2="870.36"/>
<line x1="272.50" y1="865.50" x2="272.50" y2="870.36"/>
<line x1="335.50" y1="865.50" x2="335.50" y2="870.36"/>
<line x1="398.50" y1="865.50" x2="398.50" y2="870.36"/>
<line x1="460.50" y1="865.50" x2="460.50" y2="870.36"/>
<line x1="523.50" y1="865.50" x2="523.50" y2="870.36"/>
<line x1="586.50" y1="865.50" x2="586.50" y2="870.36"/>
<line x1="649.50" y1="865.50" x2="649.50" y2="870.36"/>
<line x1="712.50" y1="865.50" x2="712.50" y2="870.36"/>
<line x1="78.64" y1="95.50" x2="83.50" y2="95.50"/>
<line x1="78.64" y1="322.50" x2="83.50" y2="322.50"/>
<line x1="78.64" y1="455.50" x2="83.50" y2="455.50"/>
<line x1="78.64" y1="549.50" x2="83.50" y2="549.50"/>
<line x1="78.64" y1="622.50" x2="83.50" y2="622.50"/>
<line x1="78.64" y1="682.50" x2="83.50" y2="682.50"/>
<line x1="78.64" y1="733.50" x2="83.50" y2="733.50"/>
<line x1="78.64" y1="776.50" x2="83.50" y2="776.50"/>
<line x1="78.64" y1="815.50" x2="83.50" y2="815.50"/>
<line x1="78.64" y1="849.50" x2="83.50" y2="849.50"/>
</g>
<g font-size="13.89px">
<text x="82.35" y="887.00" text-anchor="middle"><tspan dx="0.9">−</tspan><tspan dx="-0.9">60</tspan></text>
<text x="145.25" y="887.00" text-anchor="middle"><tspan dx="0.9">−</tspan><tspan dx="-0.9">50</tspan></text>
<text x="208.15" y="887.00" text-anchor="middle"><tspan dx="0.9">−</tspan><tspan dx="-0.9">40</tspan></text>
<text x="271.05" y="887.00" text-anchor="middle"><tspan dx="0.9">−</tspan><tspan dx="-0.9">30</tspan></text>
<text x="333.95" y="887.00" text-anchor="middle"><tspan dx="0.9">−</tspan><tspan dx="-0.9">20</tspan></text>
<text x="396.85" y="887.00" text-anchor="middle"><tspan dx="0.9">−</tspan><tspan dx="-0.9">10</tspan></text>
<text x="457.08" y="887.00" letter-spacing="0.00">0</text>
<text x="515.47" y="887.00" letter-spacing="-1.65">10</text>
<text x="577.02" y="887.00" letter-spacing="0.00">20</text>
<text x="639.92" y="887.00" letter-spacing="-0.65">30</text>
<text x="702.82" y="887.00" letter-spacing="-0.65">40</text>
<text x="48.06" y="100.87" letter-spacing="-0.58">100</text>
<text x="47.31" y="327.87" letter-spacing="-0.12">200</text>
<text x="47.16" y="460.87" letter-spacing="-0.55">300</text>
<text x="48.06" y="554.87" letter-spacing="-0.50">400</text>
<text x="47.16" y="627.87" letter-spacing="-0.55">500</text>
<text x="47.16" y="687.87" letter-spacing="-0.05">600</text>
<text x="47.16" y="738.87" letter-spacing="-0.55">700</text>
<text x="47.16" y="781.87" letter-spacing="-0.05">800</text>
<text x="48.01" y="820.87" letter-spacing="-0.48">900</text>
<text x="39.08" y="854.87" letter-spacing="-0.33">1000</text>
<text x="335.0" y="907.9" textLength="100.5" lengthAdjust="spacing">Temperature (</text><text x="440.0" y="902.0" font-size="9.72px" text-anchor="middle">∘</text><text x="445.3" y="907.9">C)</text>
<text transform="translate(28.50,482.00) rotate(-90)" text-anchor="middle">Pressure (hPa)</text>
</g>
<g class="b" font-size="13.89px">
<text x="10.2" y="20.60">SkewTLogP Benson</text>
<text x="10.2" y="36.90">Lat: 51.62   Lon: -1.10</text>
<text x="10.2" y="53.10" textLength="630.9" lengthAdjust="spacing">Simulation start time: 2024-06-25_00:00:00, Valid time: 2024-06-27T18:00:00.00</text>
<text x="10.2" y="69.95" textLength="521.0" lengthAdjust="spacing">CAPE=0 j/kg, CIN=0 j/kg, LCL=857 hPa, LFC=nan hPa, EQ=nan hPa</text>
<text x="10.7" y="87.1">LFT IDX=8<tspan font-size="9.72px" font-weight="normal" dy="-6.4" dx="2.10">∘</tspan><tspan dy="6.4" dx="1.58">C</tspan>, <tspan dx="-0.35">K</tspan> <tspan dx="1.0">IDX=-7</tspan><tspan font-size="9.72px" font-weight="normal" dy="-6.4" dx="2.60">∘</tspan><tspan dy="6.4" dx="1.13">C</tspan>, <tspan dx="0.65">TOTAL</tspan> <tspan dx="0.65">TOTS=29</tspan><tspan font-size="9.72px" font-weight="normal" dy="-6.4" dx="2.10">∘</tspan><tspan dy="6.4" dx="1.78">C</tspan>, <tspan dx="0.6">SHWTR_IDX=13</tspan><tspan font-size="9.72px" font-weight="normal" dy="-6.4" dx="2.10">∘</tspan><tspan dy="6.4" dx="2.18">C</tspan></text>
</g>
<rect x="91.50" y="704.50" width="154.00" height="154.00" fill="#fff"/>
<g clip-path="url(#hd)">
<g fill="none" stroke="#808080" stroke-width="1.39" stroke-dasharray="5.14 2.22">
<path d="M168.50 807.17A25.67 25.67 0 0 0 194.17 781.50A25.67 25.67 0 0 0 168.50 755.83A25.67 25.67 0 0 0 142.83 781.50A25.67 25.67 0 0 0 168.50 807.17"/>
<path d="M168.50 832.83A51.33 51.33 0 0 0 219.83 781.50A51.33 51.33 0 0 0 168.50 730.17A51.33 51.33 0 0 0 117.17 781.50A51.33 51.33 0 0 0 168.50 832.83"/>
<path d="M168.50 858.50A77.00 77.00 0 0 0 245.50 781.50A77.00 77.00 0 0 0 168.50 704.50A77.00 77.00 0 0 0 91.50 781.50A77.00 77.00 0 0 0 168.50 858.50"/>
<path d="M168.50 884.17A102.67 102.67 0 0 0 271.17 781.50A102.67 102.67 0 0 0 168.50 678.83A102.67 102.67 0 0 0 65.83 781.50A102.67 102.67 0 0 0 168.50 884.17"/>
</g>
<g fill="none" stroke="#808080" stroke-width="2.08" stroke-dasharray="7.7 3.33">
<line x1="91.50" y1="781.00" x2="245.50" y2="781.00"/>
<line x1="168.00" y1="858.50" x2="168.00" y2="704.50"/>
</g>
<g fill="none" stroke-width="4.17">
<line x1="188.8" y1="775.3" x2="194.1" y2="774.4" stroke="#440154"/>
<line x1="194.1" y1="774.4" x2="199.0" y2="775.3" stroke="#46085c"/>
<line x1="199.0" y1="775.3" x2="201.6" y2="779.2" stroke="#471063"/>
<line x1="201.6" y1="779.2" x2="207.3" y2="774.8" stroke="#481a6c"/>
<line x1="207.3" y1="774.8" x2="209.8" y2="771.7" stroke="#482475"/>
<line x1="209.8" y1="771.7" x2="210.7" y2="763.0" stroke="#472e7c"/>
<line x1="210.7" y1="763.0" x2="210.8" y2="757.3" stroke="#453781"/>
<line x1="210.8" y1="757.3" x2="213.2" y2="754.3" stroke="#414487"/>
<line x1="213.2" y1="754.3" x2="226.7" y2="752.7" stroke="#3c508b"/>
<line x1="226.7" y1="752.7" x2="238.2" y2="741.6" stroke="#38588c"/>
<line x1="238.2" y1="741.6" x2="241.2" y2="728.8" stroke="#33628d"/>
<line x1="241.2" y1="728.8" x2="243.5" y2="721.4" stroke="#2e6f8e"/>
<line x1="243.5" y1="721.4" x2="246.2" y2="718.6" stroke="#2a788e"/>
<line x1="247.0" y1="733.5" x2="232.5" y2="738.9" stroke="#2fb47c"/>
<line x1="232.5" y1="738.9" x2="238.5" y2="743.6" stroke="#5ec962"/>
<line x1="238.5" y1="743.6" x2="236.2" y2="759.1" stroke="#75d054"/>
<line x1="236.2" y1="759.1" x2="216.2" y2="769.2" stroke="#95d840"/>
<line x1="216.2" y1="769.2" x2="205.2" y2="763.9" stroke="#addc30"/>
<line x1="205.2" y1="763.9" x2="201.9" y2="759.4" stroke="#bade28"/>
<line x1="201.9" y1="759.4" x2="204.5" y2="754.4" stroke="#c8e020"/>
<line x1="204.5" y1="754.4" x2="207.3" y2="754.4" stroke="#d2e21b"/>
<line x1="207.3" y1="754.4" x2="208.8" y2="757.8" stroke="#dfe318"/>
<line x1="208.8" y1="757.8" x2="208.6" y2="760.5" stroke="#ece51b"/>
<line x1="208.6" y1="760.5" x2="198.5" y2="763.9" stroke="#fde725"/>
</g></g>
<rect x="91.50" y="704.50" width="154.00" height="154.00" fill="none" stroke="#000" stroke-width="1.11"/>
<g class="b" font-size="12.5px" text-anchor="middle"><text x="166.0" y="681.8">Wind Profile</text><text x="171.0" y="697">10m/s increment</text></g>
</svg></body></html>
